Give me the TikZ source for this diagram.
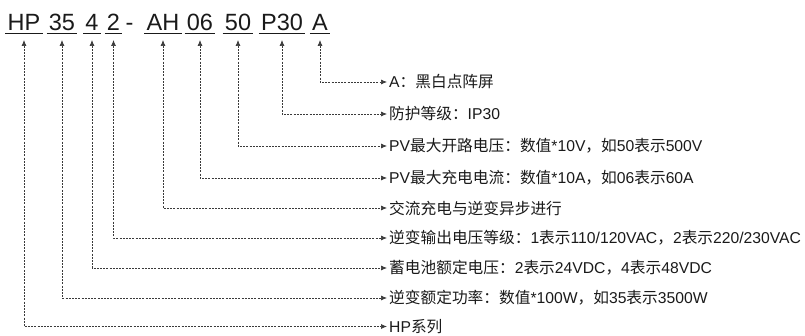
\documentclass[tikz,border=0pt]{standalone}
\usepackage{fontspec}
\setmainfont{Liberation Sans}
\newfontfamily\cjk{Noto Sans CJK SC}
\newcommand{\zh}[1]{{\cjk #1}}
\usepackage{tikz}
\usetikzlibrary{arrows.meta}
\usepackage{xcolor}
\definecolor{ink}{HTML}{1A1A1A}
\definecolor{lead}{HTML}{3A3A3A}

\begin{document}
\begin{tikzpicture}[x=1pt,y=1pt,>=Latex,
  seg/.style={font=\fontsize{23.5}{23.5}\selectfont,color=ink,inner xsep=2pt,inner ysep=0pt,anchor=base},
  lab/.style={font=\fontsize{15.7}{15.7}\selectfont,color=ink,inner xsep=2pt,inner ysep=0pt,anchor=west},
  link/.style={{Latex[length=6pt,width=5pt]}-{Latex[length=6pt,width=5pt]},lead,line width=0.7pt,dash pattern=on 2pt off 1.2pt}]
  \useasboundingbox (0,0) rectangle (805,-336);
  % model code, each part underlined
  \foreach \x/\p/\t in {24/cHP/HP,62/c35/35,92/c4/4,113.5/c2/2,163/cAH/AH,200/c06/06,238/c50/50,282/cP30/P30,320/cA/A}{
    \node[seg] (\p) at (\x,-30.5) {\t};
    \draw[ink,line width=0.9pt] ([yshift=-2.5pt]\p.base west)--([yshift=-2.5pt]\p.base east);
  }
  \node[seg] (cdash) at (129.5,-30.5) {-};
  % meaning of each part
  \foreach \y/\p/\t in {
    82/cA/{A\zh{：黑白点阵屏}},
    114/cP30/{\zh{防护等级：}IP30},
    146/c50/{PV\zh{最大开路电压：数值}*10V\zh{，如}50\zh{表示}500V},
    178/c06/{PV\zh{最大充电电流：数值}*10A\zh{，如}06\zh{表示}60A},
    208/cAH/{\zh{交流充电与逆变异步进行}},
    238/c2/{\zh{逆变输出电压等级：}1\zh{表示}110/120VAC\zh{，}2\zh{表示}220/230VAC},
    268/c4/{\zh{蓄电池额定电压：}2\zh{表示}24VDC\zh{，}4\zh{表示}48VDC},
    298/c35/{\zh{逆变额定功率：数值}*100W\zh{，如}35\zh{表示}3500W},
    326.5/cHP/{HP\zh{系列}}}{
    \node[lab] (t\p) at (387,-\y) {\t};
    \draw[link] ([yshift=-9.5pt]\p.base) |- (t\p.west);
  }
\end{tikzpicture}
\end{document}
